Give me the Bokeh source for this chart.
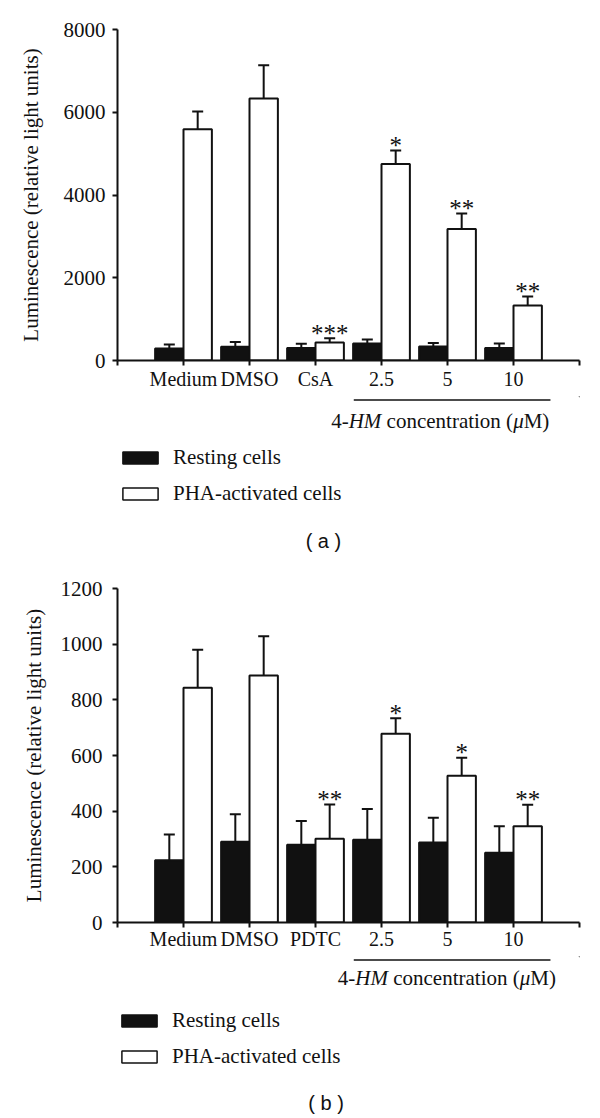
from bokeh.plotting import figure
from bokeh.layouts import column
from bokeh.models import Range1d, FixedTicker, Legend, LegendItem
from bokeh.core.properties import value
from bokeh.embed import file_html
from bokeh.resources import INLINE

# ---------------- data ----------------
categories_a = ["Medium", "DMSO", "CsA", "2.5", "5", "10"]
resting_a = [290, 330, 305, 410, 340, 300]
resting_err_a = [97, 120, 98, 98, 80, 112]
pha_a = [5590, 6330, 435, 4750, 3180, 1330]
pha_err_a = [430, 805, 105, 325, 370, 218]
sig_a = ["", "", "***", "*", "**", "**"]
yticks_a = [0, 2000, 4000, 6000, 8000]

categories_b = ["Medium", "DMSO", "PDTC", "2.5", "5", "10"]
resting_b = [224, 290, 279, 297, 287, 251]
resting_err_b = [92, 99, 86, 111, 89, 95]
pha_b = [843, 887, 301, 678, 527, 346]
pha_err_b = [137, 141, 123, 56, 65, 77]
sig_b = ["", "", "**", "*", "*", "**"]
yticks_b = [0, 200, 400, 600, 800, 1000, 1200]

y_label = "Luminescence (relative light units)"
group_runs = [("4-", "normal"), ("HM", "italic"), ("concentration (", "normal"),
              ("\u03bc", "italic"), ("M)", "normal")]
series_names = ["Resting cells", "PHA-activated cells"]
panel_tags = ["( a )", "( b )"]

SERIF = "Liberation Serif"
SANS = "Liberation Sans"
INK = "#111111"
W = 600
BAR_W = 0.43


def bar_panel(cats, rest, rest_err, pha, pha_err, sig, yticks, height,
              left, top, bottom, ylab_standoff, ytick_standoff, xlab_standoff):
    p = figure(width=W, height=height, x_range=Range1d(0, len(cats) + 1),
               y_range=Range1d(yticks[0], yticks[-1]), tools="",
               output_backend="svg", toolbar_location=None,
               min_border_left=left, min_border_right=21,
               min_border_top=top, min_border_bottom=bottom)
    p.outline_line_color = None
    p.grid.visible = False
    p.background_fill_color = "white"
    p.title.visible = False

    idx = list(range(1, len(cats) + 1))
    xr = [i - BAR_W / 2 for i in idx]
    xp = [i + BAR_W / 2 for i in idx]
    rtop = [m + e for m, e in zip(rest, rest_err)]
    ptop = [m + e for m, e in zip(pha, pha_err)]

    p.vbar(x=xr, top=rest, width=BAR_W, fill_color=INK, line_color=INK, line_width=2)
    p.vbar(x=xp, top=pha, width=BAR_W, fill_color="white", line_color=INK, line_width=2)
    for xs, lo, hi in ((xr, rest, rtop), (xp, pha, ptop)):
        p.segment(x0=xs, y0=lo, x1=xs, y1=hi, line_color=INK, line_width=2)
        p.scatter(x=xs, y=hi, marker="dash", size=11, line_color=INK, line_width=2)
    p.text(x=xp, y=ptop, text=sig, text_font=value(SERIF), text_font_size="25px",
           text_align="center", text_baseline="alphabetic", y_offset=-5, text_color=INK)

    xa = p.xaxis[0]
    xa.ticker = FixedTicker(ticks=list(range(0, len(cats) + 2)))
    overrides = {0: "", len(cats) + 1: ""}
    for i, c in zip(idx, cats):
        overrides[i] = c
    xa.major_label_overrides = overrides
    ya = p.yaxis[0]
    ya.ticker = FixedTicker(ticks=yticks)
    ya.axis_label = y_label
    ya.axis_label_standoff = ylab_standoff
    ya.axis_label_text_font = SERIF
    ya.axis_label_text_font_size = "21px"
    ya.axis_label_text_font_style = "normal"
    ya.axis_label_text_color = INK
    ya.major_label_standoff = ytick_standoff
    xa.major_label_standoff = xlab_standoff
    for ax in (xa, ya):
        ax.axis_line_width = 2
        ax.axis_line_color = INK
        ax.major_tick_line_width = 2
        ax.major_tick_line_color = INK
        ax.major_tick_in = 0
        ax.major_tick_out = 5
        ax.minor_tick_line_color = None
        ax.major_label_text_font = SERIF
        ax.major_label_text_color = INK
    ya.major_label_text_font_size = "21px"
    xa.major_label_text_font_size = "20px"
    return p


def note_panel(ncat, height, left, bracket_y, title_x, title_y, leg_loc, tag, tag_x, tag_y):
    q = figure(width=W, height=height, x_range=Range1d(0, ncat + 1),
               y_range=Range1d(height, 0), x_axis_type=None, y_axis_type=None,
               tools="", output_backend="svg", toolbar_location=None,
               min_border_left=left, min_border_right=21,
               min_border_top=0, min_border_bottom=0)
    q.outline_line_color = None
    q.grid.visible = False
    q.title.visible = False

    # bracket under the 4-HM concentrations
    q.line(x=[3.58, 6.56], y=[bracket_y, bracket_y], line_color=INK, line_width=1.5)

    em = 21
    widths = [0.833, 1.555, 6.026, 0.5, 1.222]
    gaps = [0, 0, 0.25, 0, 0]
    total = (sum(widths) + sum(gaps)) * em
    pos = -total / 2
    for (txt, style), w, g in zip(group_runs, widths, gaps):
        pos += g * em
        q.text(x=[title_x], y=[title_y], text=[txt], x_offset=pos,
               text_font=value(SERIF), text_font_size="21px", text_font_style=style,
               text_align="left", text_baseline="middle", text_color=INK)
        pos += w * em

    # legend swatch renderers (their single bar lies far outside the visible range)
    r1 = q.vbar(x=[100], top=[-500], bottom=[-600], width=0.4,
                fill_color=INK, line_color=INK, line_width=1.5)
    r2 = q.vbar(x=[100], top=[-500], bottom=[-600], width=0.4,
                fill_color="white", line_color=INK, line_width=1.5)
    leg = Legend(items=[LegendItem(label=series_names[0], renderers=[r1]),
                        LegendItem(label=series_names[1], renderers=[r2])],
                 location=leg_loc, orientation="vertical", padding=0, margin=0,
                 spacing=11, glyph_width=44, glyph_height=15, label_height=15,
                 label_standoff=11, label_text_font=SERIF, label_text_font_size="21px",
                 label_text_color=INK, border_line_color=None, background_fill_alpha=0)
    q.add_layout(leg)

    q.text(x=[tag_x], y=[tag_y], text=[tag], text_font=value(SANS), text_font_size="20px",
           text_align="center", text_baseline="middle", text_color=INK)
    return q


p1 = bar_panel(categories_a, resting_a, resting_err_a, pha_a, pha_err_a, sig_a, yticks_a,
               height=396, left=117, top=29, bottom=36,
               ylab_standoff=18, ytick_standoff=7, xlab_standoff=2)
p2 = note_panel(len(categories_a), 171, 117, bracket_y=3.5, title_x=4.89, title_y=24,
                leg_loc=(1, 61), tag=panel_tags[0], tag_x=3.12, tag_y=144)
p3 = bar_panel(categories_b, resting_b, resting_err_b, pha_b, pha_err_b, sig_b, yticks_b,
               height=389, left=112, top=21, bottom=34,
               ylab_standoff=12, ytick_standoff=10, xlab_standoff=0)
p4 = note_panel(len(categories_b), 162, 112, bracket_y=3.5, title_x=4.99, title_y=21,
                leg_loc=(0, 49), tag=panel_tags[1], tag_x=3.16, tag_y=146)

layout = column(p1, p2, p3, p4, spacing=0)
open("out.html", "w").write(file_html(layout, INLINE))
